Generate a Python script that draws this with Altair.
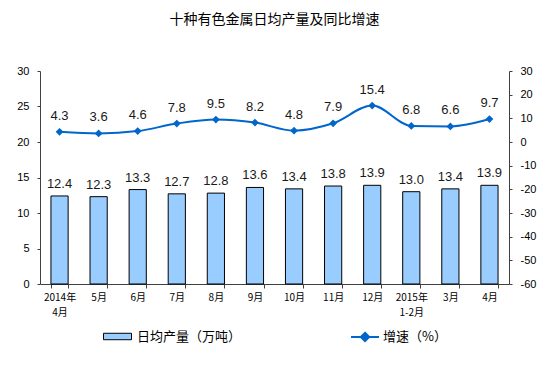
import altair as alt
import pandas as pd

months = ["2014年|4月", "5月", "6月", "7月", "8月", "9月", "10月", "11月", "12月",
          "2015年|1-2月", "3月", "4月"]
output = [12.4, 12.3, 13.3, 12.7, 12.8, 13.6, 13.4, 13.8, 13.9, 13.0, 13.4, 13.9]
growth = [4.3, 3.6, 4.6, 7.8, 9.5, 8.2, 4.8, 7.9, 15.4, 6.8, 6.6, 9.7]
left_ticks = [0, 5, 10, 15, 20, 25, 30]
right_ticks = [-60, -50, -40, -30, -20, -10, 0, 10, 20, 30]
series_bar = "日均产量（万吨）"
series_line = "增速（%）"

df = pd.DataFrame({"month": months, "output": output, "growth": growth,
                   "s1": series_bar, "s2": series_line})

CJK = "Noto Sans CJK SC"
NUM = "Liberation Sans"
AX = "#404040"

x_enc = alt.X("month:N", sort=None,
              scale=alt.Scale(paddingInner=0.56, paddingOuter=0.28),
              axis=alt.Axis(title=None, labelAngle=0,
                            labelExpr="split(datum.label, '|')",
                            labelFont=CJK, labelFontSize=10, labelColor="black",
                            labelLineHeight=15, labelPadding=4,
                            tickBand="extent", tickSize=4, tickColor=AX,
                            domainColor=AX))

y_left = alt.Y("output:Q", scale=alt.Scale(domain=[0, 30], nice=False),
               axis=alt.Axis(title=None, values=left_ticks, grid=False,
                             orient="left", labelFont=NUM, labelFontSize=11,
                             labelColor="black", labelPadding=8, tickSize=3,
                             tickColor=AX, domainColor=AX))
y_right = alt.Y("growth:Q", scale=alt.Scale(domain=[-60, 30], nice=False),
                axis=alt.Axis(title=None, values=right_ticks, grid=False,
                              orient="right", labelFont=NUM, labelFontSize=11,
                              labelExpr="datum.value + ''",
                              labelColor="black", labelPadding=8, tickSize=3,
                              tickColor=AX, domainColor=AX))

base = alt.Chart(df)

bars = base.mark_bar(stroke="black", strokeWidth=1).encode(
    x=x_enc, y=y_left,
    fill=alt.Fill("s1:N", scale=alt.Scale(domain=[series_bar], range=["#99CCFF"]),
                  legend=alt.Legend(title=None, orient="none", legendX=63, legendY=251,
                                    symbolType="M-1,-0.23H1V0.23H-1Z", symbolSize=784,
                                    symbolStrokeColor="black", symbolStrokeWidth=1,
                                    labelFont=CJK, labelFontSize=13, labelColor="black",
                                    labelOffset=5)))
bar_text = base.mark_text(baseline="bottom", dy=-5, font=NUM, fontSize=13,
                          color="#1a1a1a").encode(
    x=x_enc, y=y_left, text=alt.Text("output:Q", format=".1f"))

line = base.mark_line(strokeWidth=2, interpolate="monotone").encode(
    x=x_enc, y=y_right,
    stroke=alt.Stroke("s2:N", scale=alt.Scale(domain=[series_line], range=["#0066CC"]),
                      legend=alt.Legend(title=None, orient="none", legendX=310, legendY=251,
                                        symbolType="M-1,0H1M0,-0.3L0.3,0L0,0.3L-0.3,0Z",
                                        symbolSize=784, symbolStrokeWidth=2,
                                        symbolFillColor="#0066CC",
                                        labelFont=CJK, labelFontSize=13,
                                        labelColor="black", labelOffset=3)))
points = base.mark_point(shape="diamond", filled=True, size=60, color="#0066CC",
                         opacity=1).encode(x=x_enc, y=y_right)
line_text = base.mark_text(baseline="bottom", dy=-9, font=NUM, fontSize=13,
                           color="#1a1a1a").encode(
    x=x_enc, y=y_right, text=alt.Text("growth:Q", format=".1f"))

left = alt.layer(bars, bar_text)
right = alt.layer(line, points, line_text)

chart = alt.layer(left, right).resolve_scale(y="independent").properties(
    width=469, height=213,
    title=alt.Title("十种有色金属日均产量及同比增速", font=CJK, fontSize=14,
                    fontWeight="normal", color="black", anchor="middle", offset=38),
    autosize=alt.AutoSizeParams(type="none"),
    padding={"left": 32, "top": 63, "right": 37, "bottom": 80},
).configure_view(stroke=None)

chart.save("out.html", embed_options={"renderer": "svg", "actions": False})
